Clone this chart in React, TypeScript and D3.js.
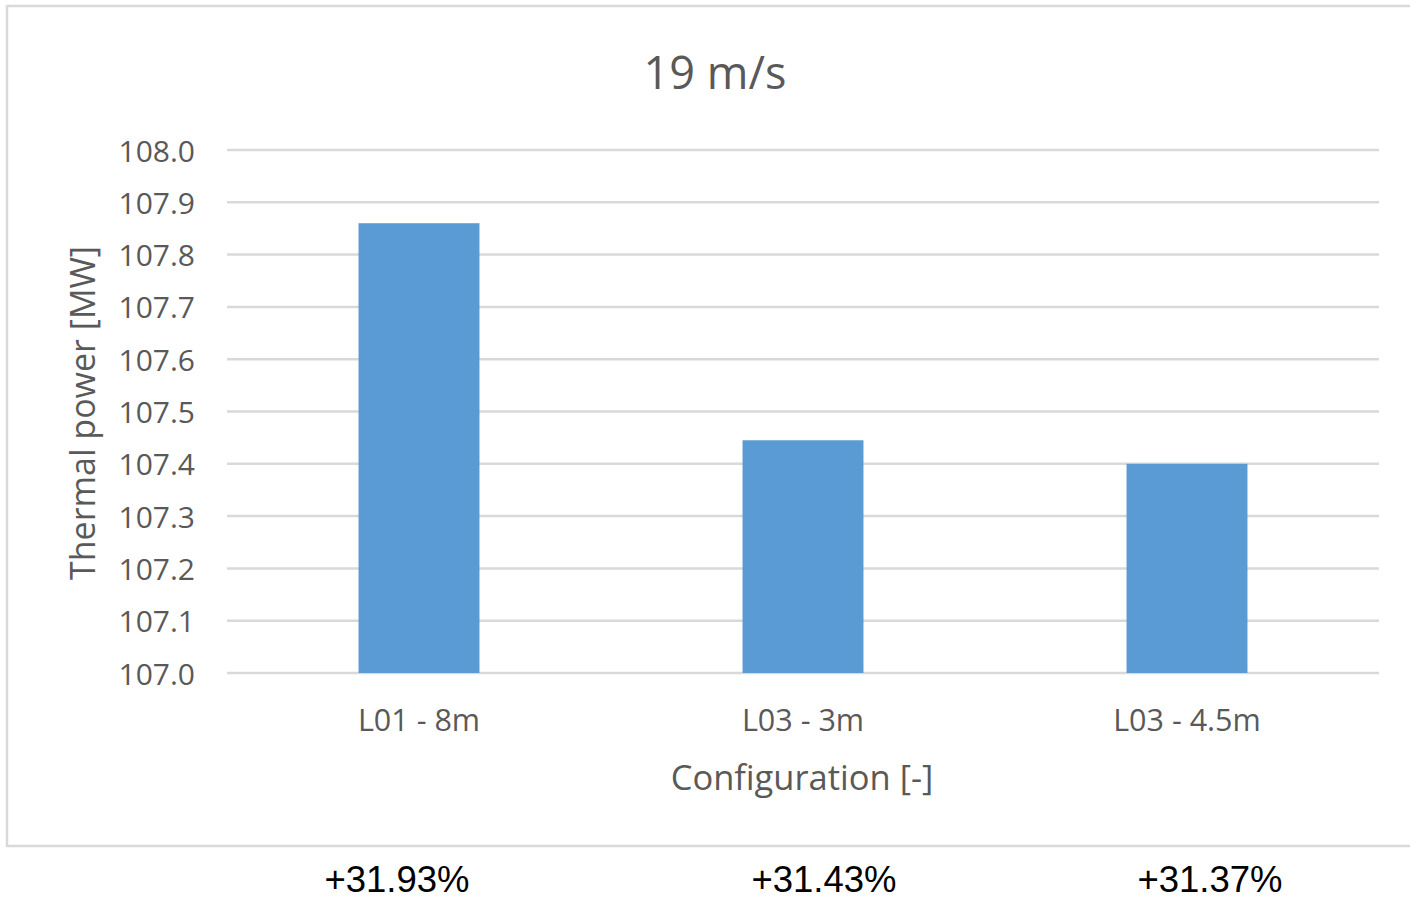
import React from "react";
import * as d3 from "d3";

// Thermal power per configuration at 19 m/s
const configurations: string[] = ["L01 - 8m", "L03 - 3m", "L03 - 4.5m"];
const thermalPower: number[] = [107.86, 107.445, 107.4];
const gainLabels: string[] = ["+31.93%", "+31.43%", "+31.37%"];
const yTicks: number[] = [107.0, 107.1, 107.2, 107.3, 107.4, 107.5, 107.6, 107.7, 107.8, 107.9, 108.0];

const W = 1410;
const H = 899;
const plot = { left: 227, right: 1379, top: 150, bottom: 673 };
const font = "'Open Sans', 'DejaVu Sans', sans-serif";
const grey = "#595959";
// horizontal nudge of each gain label relative to its bar centre
const gainOffsets = [-22, 21, 23];

export default function App() {
  const x = d3
    .scaleBand<string>()
    .domain(configurations)
    .range([plot.left, plot.right])
    .padding(0);
  const y = d3.scaleLinear().domain([107.0, 108.0]).range([plot.bottom, plot.top]);
  const barW = x.bandwidth() * 0.315;
  const center = (c: string) => (x(c) as number) + x.bandwidth() / 2;

  return (
    <div style={{ position: "absolute", left: 0, top: 0 }}>
      <svg width={W} height={H} style={{ display: "block" }}>
        <rect x={0} y={0} width={W} height={H} fill="#ffffff" />
        {/* chart frame */}
        <rect x={7} y={6} width={W} height={840} fill="#ffffff" stroke="#d9d9d9" strokeWidth={2.5} />

        <text x={715} y={71} textAnchor="middle" dominantBaseline="central" fontFamily={font} fontSize={45} fill={grey}>
          19 m/s
        </text>

        {/* gridlines and tick labels */}
        {yTicks.map((t) => (
          <g key={t}>
            <line x1={plot.left} x2={plot.right} y1={y(t)} y2={y(t)} stroke="#d9d9d9" strokeWidth={2.5} />
            <text
              x={195}
              y={y(t)}
              textAnchor="end"
              dominantBaseline="central"
              fontFamily={font}
              fontSize={30}
              fill={grey}
            >
              {d3.format(".1f")(t)}
            </text>
          </g>
        ))}

        {/* bars */}
        {configurations.map((c, i) => (
          <rect
            key={c}
            x={center(c) - barW / 2}
            y={y(thermalPower[i])}
            width={barW}
            height={y(107.0) - y(thermalPower[i])}
            fill="#5b9bd5"
          />
        ))}

        {/* category labels */}
        {configurations.map((c) => (
          <text
            key={c}
            x={center(c)}
            y={719}
            textAnchor="middle"
            dominantBaseline="central"
            fontFamily={font}
            fontSize={30.5}
            fill={grey}
          >
            {c}
          </text>
        ))}

        <text x={802} y={776} textAnchor="middle" dominantBaseline="central" fontFamily={font} fontSize={34.5} fill={grey}>
          Configuration [-]
        </text>

        <text
          transform={`translate(82, 413) rotate(-90)`}
          textAnchor="middle"
          dominantBaseline="central"
          fontFamily={font}
          fontSize={34}
          fill={grey}
        >
          Thermal power [MW]
        </text>

        {/* relative gains below the chart */}
        {configurations.map((c, i) => (
          <text
            key={c}
            x={center(c) + gainOffsets[i]}
            y={892}
            textAnchor="middle"
            fontFamily="'Liberation Sans', Arial, sans-serif"
            fontSize={36.5}
            fill="#000000"
          >
            {gainLabels[i]}
          </text>
        ))}
      </svg>
    </div>
  );
}
